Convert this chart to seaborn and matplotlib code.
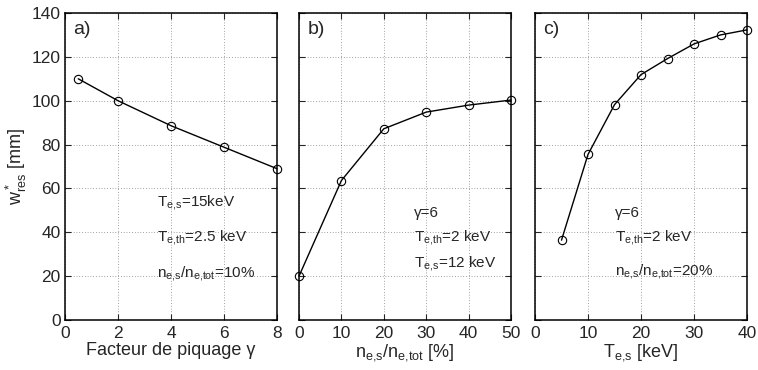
import matplotlib
matplotlib.use("Agg")
import matplotlib.pyplot as plt
import seaborn as sns
import pandas as pd

# Data
gamma = [0.5, 2, 4, 6, 8]
w_gamma = [110, 100, 88.6, 78.8, 69]
ns_frac = [0, 10, 20, 30, 40, 50]
w_ns = [20, 63.6, 87.2, 94.8, 98, 100.3]
tes = [5, 10, 15, 20, 25, 30, 35, 40]
w_tes = [36.4, 75.5, 98.2, 111.9, 119.2, 125.9, 130, 132.3]

panel_labels = ["a)", "b)", "c)"]
xlabels = [r"Facteur de piquage γ",
           r"$\mathregular{n_{e{,}s}/n_{e{,}tot}}$ [%]",
           r"$\mathregular{T_{e{,}s}}$ [keV]"]
ylabel = r"$\mathregular{w^*_{res}}$ [mm]"
notes = [
    [r"$\mathregular{T_{e{,}s}}$=15keV", r"$\mathregular{T_{e{,}th}}$=2.5 keV",
     r"$\mathregular{n_{e{,}s}/n_{e{,}tot}}$=10%"],
    [r"γ=6", r"$\mathregular{T_{e{,}th}}$=2 keV", r"$\mathregular{T_{e{,}s}}$=12 keV"],
    [r"γ=6", r"$\mathregular{T_{e{,}th}}$=2 keV", r"$\mathregular{n_{e{,}s}/n_{e{,}tot}}$=20%"],
]
xlims = [(0, 8), (0, 50), (0, 40)]
xticks = [[0, 2, 4, 6, 8], [0, 10, 20, 30, 40, 50], [0, 10, 20, 30, 40]]
note_x = [3.47, 27.2, 15.1]
note_y = [[53.5, 37.5, 21], [49, 37.5, 25.6], [49, 37.5, 22]]

sns.set_style("ticks")
plt.rcParams['font.family'] = ['Liberation Sans', 'DejaVu Sans']
plt.rcParams['mathtext.fontset'] = 'custom'
plt.rcParams['mathtext.rm'] = 'Liberation Sans'
plt.rcParams['mathtext.it'] = 'Liberation Sans:italic'
plt.rcParams['mathtext.bf'] = 'Liberation Sans:bold'

fig = plt.figure(figsize=(7.58, 3.70), dpi=100)
W, H = 758, 370
lefts = [65, 299, 535]
width = 212
bottom_px, top_px = 320, 13

datasets = [(gamma, w_gamma), (ns_frac, w_ns), (tes, w_tes)]
for i, (xs, ys) in enumerate(datasets):
    ax = fig.add_axes([lefts[i] / W, 1 - bottom_px / H, width / W, (bottom_px - top_px) / H])
    df = pd.DataFrame({"x": xs, "y": ys})
    sns.lineplot(data=df, x="x", y="y", ax=ax, color="black", linewidth=1.0,
                 marker="o", markersize=6, markerfacecolor="none",
                 markeredgecolor="black", markeredgewidth=0.8, clip_on=False, zorder=3)
    ax.set_xlim(*xlims[i])
    ax.set_ylim(0, 140)
    ax.set_xticks(xticks[i])
    ax.set_yticks(range(0, 141, 20))
    ax.grid(True, linestyle=(0, (1, 3)), color="black", linewidth=0.5, alpha=0.7)
    ax.tick_params(direction="in", labelsize=12.5, length=4, width=0.8,
                   top=True, right=True)
    ax.tick_params(axis="x", pad=4)
    ax.tick_params(axis="y", pad=3)
    for s in ax.spines.values():
        s.set_linewidth(1.1)
        s.set_color("black")
    ax.set_xlabel(xlabels[i], fontsize=13, labelpad=1)
    if i == 0:
        ax.set_ylabel(ylabel, fontsize=13, labelpad=2)
    else:
        ax.set_ylabel("")
        ax.set_yticklabels([])
    ax.text(0.04, 0.975, panel_labels[i], transform=ax.transAxes, fontsize=14,
            ha="left", va="top")
    for t, yy in zip(notes[i], note_y[i]):
        ax.text(note_x[i], yy, t, fontsize=11, ha="left", va="center")

fig.savefig("out.png", dpi=100)
